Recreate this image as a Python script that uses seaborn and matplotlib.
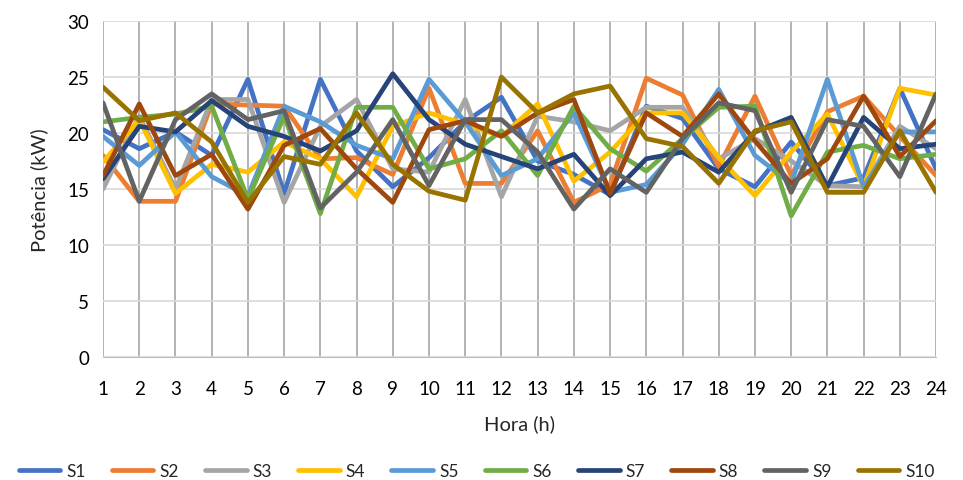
import matplotlib
matplotlib.use("Agg")
import matplotlib.pyplot as plt
import seaborn as sns
import pandas as pd

hours = list(range(1, 25))
series_names = ["S1", "S2", "S3", "S4", "S5", "S6", "S7", "S8", "S9", "S10"]
S1 = [20.3, 18.6, 20.1, 18.0, 24.8, 14.6, 24.8, 18.4, 15.2, 17.8, 21.0, 23.2, 17.5, 16.3, 14.5, 22.4, 21.3, 16.8, 15.2, 19.2, 15.3, 16.0, 24.0, 16.8]
S2 = [18.0, 13.9, 13.9, 22.6, 22.5, 22.4, 17.7, 17.8, 16.3, 24.0, 15.5, 15.5, 20.2, 13.8, 15.4, 24.9, 23.4, 17.0, 23.3, 16.2, 21.9, 23.3, 19.7, 16.2]
S3 = [15.0, 21.5, 15.0, 23.0, 23.0, 13.8, 20.6, 23.0, 16.8, 16.5, 23.0, 14.3, 21.5, 21.0, 20.2, 22.3, 22.3, 17.7, 19.5, 17.5, 15.3, 15.2, 20.6, 18.6]
S4 = [17.4, 21.2, 14.6, 17.2, 16.5, 19.2, 17.7, 14.3, 20.6, 21.8, 20.8, 19.7, 22.6, 15.7, 18.3, 21.8, 21.8, 17.8, 14.4, 18.3, 21.7, 15.2, 24.0, 23.4]
S5 = [19.7, 17.1, 20.1, 16.1, 14.4, 22.4, 21.0, 18.9, 17.7, 24.8, 21.0, 16.2, 17.7, 21.8, 14.7, 15.4, 19.0, 23.9, 18.0, 15.5, 24.8, 15.2, 20.1, 20.1]
S6 = [21.0, 21.4, 21.7, 22.4, 14.1, 21.5, 12.8, 22.3, 22.3, 16.8, 17.7, 20.2, 16.2, 22.4, 18.6, 16.6, 19.5, 22.3, 22.4, 12.6, 18.3, 18.9, 17.7, 18.1]
S7 = [15.9, 20.6, 20.1, 22.9, 20.6, 19.7, 18.4, 20.2, 25.3, 21.2, 19.0, 17.9, 16.8, 18.1, 14.4, 17.7, 18.3, 16.5, 20.1, 21.4, 15.2, 21.4, 18.6, 19.0]
S8 = [16.2, 22.6, 16.2, 18.1, 13.2, 18.9, 20.4, 16.8, 13.8, 20.3, 21.1, 19.7, 21.8, 23.0, 14.6, 21.8, 19.7, 23.5, 19.3, 15.5, 17.7, 23.3, 17.9, 21.1]
S9 = [22.7, 13.9, 21.2, 23.5, 21.2, 22.0, 13.3, 16.5, 21.2, 15.3, 21.2, 21.2, 18.3, 13.2, 16.8, 14.7, 19.5, 22.7, 22.0, 14.7, 21.2, 20.6, 16.1, 23.5]
S10 = [24.1, 21.1, 21.8, 19.2, 13.8, 17.9, 17.2, 21.8, 17.2, 14.8, 14.0, 25.0, 21.8, 23.5, 24.2, 19.5, 18.8, 15.5, 20.2, 21.0, 14.7, 14.7, 20.2, 14.7]
colors = ["#4472C4", "#ED7D31", "#A5A5A5", "#FFC000", "#5B9BD5",
          "#70AD47", "#264478", "#9E480E", "#636363", "#997300"]

values = [S1, S2, S3, S4, S5, S6, S7, S8, S9, S10]
df = pd.DataFrame({
    "Hora": hours * len(series_names),
    "Valor": [v for s in values for v in s],
    "Serie": [n for n in series_names for _ in hours],
})

sns.set_style("white")
plt.rcParams["font.family"] = ["Lato", "DejaVu Sans"]

fig = plt.figure(figsize=(9.63, 4.81), dpi=100)
ax = fig.add_axes([0.107, 0.256, 0.865, 0.698])
sns.lineplot(data=df, x="Hora", y="Valor", hue="Serie", hue_order=series_names,
             palette=colors, linewidth=3.4, ax=ax, legend=True)

ax.set_xlim(1, 24)
ax.set_ylim(0, 30)
ax.set_xticks(hours)
ax.set_yticks(range(0, 31, 5))
ax.grid(axis="y", color="#D9D9D9", linewidth=1.2)
ax.grid(axis="x", color="#A6A6A6", linewidth=1.2)
ax.set_axisbelow(True)
for s in ["top", "right", "left"]:
    ax.spines[s].set_visible(False)
ax.spines["bottom"].set_color("#BFBFBF")
ax.tick_params(axis="x", labelsize=13.5, colors="black", length=0, pad=17)
ax.tick_params(axis="y", labelsize=13.5, colors="black", length=0, pad=10)
ax.set_xlabel("Hora (h)", fontsize=14.5, labelpad=12)
ax.set_ylabel("Potência (kW)", fontsize=14.5, labelpad=14)

handles, labels = ax.get_legend_handles_labels()
ax.get_legend().remove()
fig.legend(handles, labels, loc="lower center", bbox_to_anchor=(0.495, -0.03),
           ncol=10, frameon=False, fontsize=12.5, handlelength=2.4,
           columnspacing=1.5, handletextpad=0.35)

fig.savefig("out.png", dpi=100)
